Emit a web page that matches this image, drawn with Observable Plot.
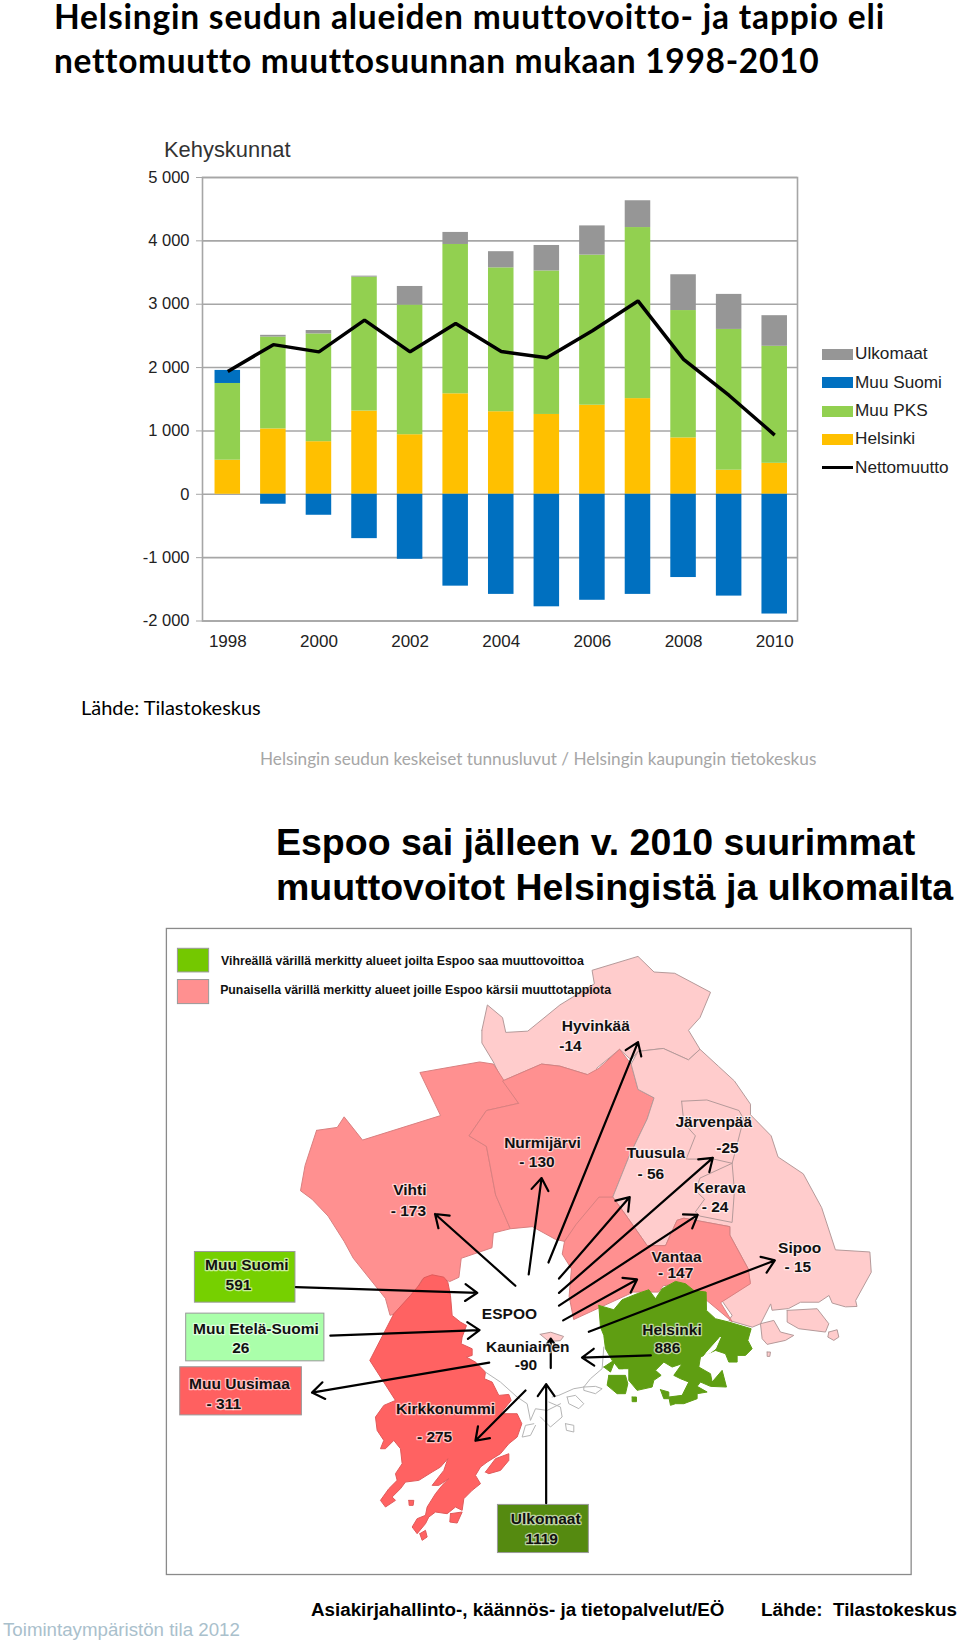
<!DOCTYPE html>
<html lang="fi">
<head>
<meta charset="utf-8">
<script src="https://cdn.jsdelivr.net/npm/d3@7"></script>
<script src="https://cdn.jsdelivr.net/npm/@observablehq/plot@0.6"></script>
<style>
html,body{margin:0;padding:0;background:#fff;}
#page{position:relative;width:960px;height:1644px;overflow:hidden;font-family:"Liberation Sans",Arial,sans-serif;}
#page>div{position:absolute;white-space:pre;line-height:1;}
#chart,#map{left:0;}
#chart{top:0;}#map{top:920px;}
.sw{width:31px;height:11px;}
</style>
</head>
<body>
<div id="page"></div>
<script>
const years = [1998,1999,2000,2001,2002,2003,2004,2005,2006,2007,2008,2009,2010];
const helsinki = [538,1032,830,1314,940,1586,1303,1260,1406,1510,890,380,489];
const muuPks = [1211,1450,1701,2113,2047,2357,2271,2265,2369,2700,2010,2222,1847];
const muuSuomi = [206,-157,-331,-700,-1026,-1450,-1580,-1776,-1673,-1580,-1314,-1607,-1890];
const ulkomaat = [0,27,54,16,293,190,255,402,461,423,565,553,483];
const nettomuutto = [1939,2362,2248,2748,2248,2694,2254,2156,2580,3052,2129,1560,934];
const yTicks = [5000,4000,3000,2000,1000,0,-1000,-2000];
const yTickLabels = ["5 000","4 000","3 000","2 000","1 000","0","-1 000","-2 000"];
const xTicks = [1998,2000,2002,2004,2006,2008,2010];
const seriesNames = ["Helsinki","Muu PKS","Muu Suomi","Ulkomaat"];
const seriesColors = ["#FFC000","#92D050","#0070C0","#969696"];
const legendNames = ["Ulkomaat","Muu Suomi","Muu PKS","Helsinki","Nettomuutto"];
const legendColors = ["#969696","#0070C0","#92D050","#FFC000","#000"];

// Map geometry (map units)
const regionHyvinkaa = [[700,260],[712,200],[745,230],[752,265],[800,262],[870,200],[945,150],[940,118],[1040,85],[1075,122],[1120,125],[1198,170],[1175,230],[1150,260],[1175,305],[1150,330],[1095,303],[1040,310],[1025,330],[1000,305],[950,350],[945,405],[920,410],[930,365],[870,345],[830,340],[745,380],[725,335],[700,290]];
const regionVihti = [[340,497],[385,490],[400,465],[440,520],[610,462],[565,360],[695,335],[725,340],[780,433],[710,450],[672,510],[710,535],[730,650],[762,730],[725,740],[722,775],[655,800],[650,845],[630,855],[600,842],[570,850],[530,925],[500,935],[490,895],[420,800],[400,760],[365,700],[330,660],[305,640],[315,580]];
const regionNurmijarvi = [[780,433],[745,380],[830,340],[870,345],[930,365],[955,350],[1000,305],[1025,340],[1040,400],[1075,420],[1060,470],[1020,560],[985,655],[955,660],[910,720],[880,760],[860,755],[810,725],[762,730],[730,650],[710,535],[672,510],[710,450]];
const regionVantaa = [[880,760],[905,720],[955,655],[985,655],[1015,700],[1060,770],[1100,770],[1125,710],[1140,705],[1240,725],[1240,745],[1280,825],[1285,860],[1220,905],[1245,950],[1190,900],[1130,860],[1095,865],[1085,880],[1030,880],[960,915],[900,945],[890,890],[895,825],[875,790]];
const regionTuusulaSipoo = [[1025,340],[1040,310],[1095,303],[1150,330],[1175,305],[1215,345],[1250,380],[1285,435],[1285,460],[1330,510],[1345,560],[1400,600],[1440,680],[1470,780],[1545,785],[1548,833],[1514,900],[1517,914],[1492,915],[1463,906],[1456,888],[1434,904],[1394,904],[1368,919],[1332,923],[1329,908],[1307,955],[1289,963],[1238,947],[1245,935],[1220,896],[1284,856],[1280,825],[1240,745],[1240,725],[1140,705],[1125,710],[1100,770],[1060,770],[1015,700],[985,655],[1020,560],[1060,470],[1075,420],[1040,400]];
const regionJarvenpaa = [[1135,428],[1190,425],[1260,450],[1270,470],[1250,555],[1245,575],[1205,565],[1145,565],[1165,510],[1140,480]];
const regionKerava = [[1245,575],[1250,640],[1245,715],[1175,700],[1165,690],[1185,660],[1165,640],[1175,610]];
const regionKauniainen = [[827,980],[850,975],[878,985],[871,995],[846,997]];

// South-west part, in detail units a
const detailKirkkonummi = [[175,135],[190,112],[215,103],[250,110],[262,125],[270,165],[275,225],[300,245],[318,255],[305,290],[302,310],[335,325],[335,345],[318,350],[345,365],[375,395],[372,415],[395,425],[415,465],[445,462],[452,480],[420,520],[470,520],[484,550],[470,590],[445,610],[420,640],[380,665],[360,680],[345,705],[360,730],[335,750],[310,775],[305,810],[285,800],[260,820],[225,815],[205,830],[195,850],[170,880],[155,860],[170,835],[195,825],[200,800],[225,760],[245,735],[265,715],[235,735],[215,735],[250,690],[262,655],[240,680],[215,695],[175,720],[135,725],[120,745],[95,770],[105,780],[75,800],[60,780],[85,745],[110,720],[105,700],[125,670],[120,625],[100,600],[75,625],[60,625],[70,600],[50,570],[45,530],[70,495],[105,480],[28,360],[100,220],[150,165]];
const detailKirkIsle1 = [[375,695],[405,655],[445,640],[445,660],[420,690],[385,700]];
const detailKirkIsle2 = [[270,820],[305,815],[290,848],[268,845]];
const detailKirkIsle3 = [[178,880],[195,870],[200,890],[185,900]];
const detailKirkIsle4 = [[145,780],[160,780],[158,795],[146,795]];
const detailCoastA = [[375,395],[420,425],[470,470],[500,490],[510,540],[525,505],[560,510],[600,490]];
const detailCoastB = [[520,550],[495,555],[485,590],[510,585],[525,555]];

// South-east part, in detail units b
const detailHelsinki = [[175,135],[220,148],[245,118],[290,100],[325,88],[345,115],[365,85],[405,63],[435,70],[460,90],[497,95],[498,150],[525,175],[565,185],[632,205],[622,240],[635,265],[615,285],[590,285],[590,305],[565,305],[555,280],[525,270],[480,290],[475,320],[510,340],[515,365],[545,330],[558,380],[510,378],[480,365],[470,378],[500,395],[470,400],[470,415],[430,430],[405,430],[390,435],[385,410],[425,405],[445,365],[420,355],[400,345],[425,310],[395,320],[370,305],[345,330],[362,345],[340,360],[335,380],[290,390],[265,360],[265,325],[235,325],[215,300],[195,265],[190,225],[180,200]];
const detailHelInlet = [[500,275],[540,230],[525,265],[485,295]];
const detailHelIsle1 = [[190,320],[225,297],[210,335]];
const detailHelIsle2 = [[235,305],[250,305],[248,325],[235,325]];
const detailHelIsle3 = [[205,345],[255,345],[262,370],[255,400],[230,400],[200,375]];
const detailHelIsle4 = [[275,410],[288,410],[288,424],[275,424]];
const detailHelIsle5 = [[360,388],[385,395],[385,415],[370,415]];
const detailSipooIsle1 = [[660,190],[700,180],[720,215],[760,225],[735,240],[680,252],[665,235]];
const detailSipooIsle2 = [[740,150],[830,145],[865,190],[855,215],[775,205],[740,185]];
const detailSipooIsle3 = [[865,215],[890,208],[895,230],[880,240],[862,230]];
const detailSipooIsle4 = [[680,275],[690,275],[688,288],[680,288]];
const detailCoastC = [[80,410],[105,405],[130,430],[115,445],[85,430],[80,410]];
const detailCoastD = [[130,380],[165,378],[185,385],[165,400],[130,390],[130,380]];
const detailCoastE = [[25,425],[60,440],[65,470],[30,500],[0,470]];
const detailCoastF = [[75,490],[100,495],[100,515],[78,510],[75,490]];
const detailCoastG = [[35,410],[55,405],[100,385],[130,380],[150,355],[185,325],[190,260]];

const fromA = ([p,q])=>[435.6+0.726*p,757.8+0.789*q];
const fromB = ([p,q])=>[827.6+0.726*p,805+0.789*q];

const rPale = "#FFCCCC", rMid = "#FF9090", rStrong = "#FF6262", gHel = "#5F9E12";
const paleEdge = "#b59a9a", midEdge = "#d98080", strongEdge = "#e05a5a";
const regions = [
  [regionHyvinkaa,rPale,paleEdge],[regionVihti,rMid,midEdge],[regionNurmijarvi,rMid,midEdge],
  [regionTuusulaSipoo,rPale,paleEdge],[regionJarvenpaa,rPale,paleEdge],[regionKerava,rPale,paleEdge],
  [regionVantaa,rMid,midEdge],
  [detailKirkkonummi.map(fromA),rStrong,strongEdge],[detailKirkIsle1.map(fromA),rStrong,strongEdge],
  [detailKirkIsle2.map(fromA),rStrong,strongEdge],[detailKirkIsle3.map(fromA),rStrong,strongEdge],[detailKirkIsle4.map(fromA),rStrong,strongEdge],
  [detailHelsinki.map(fromB),gHel,gHel],[detailHelInlet.map(fromB),"#fff","#fff"],
  [detailHelIsle1.map(fromB),gHel,gHel],[detailHelIsle2.map(fromB),gHel,gHel],[detailHelIsle3.map(fromB),gHel,gHel],
  [detailHelIsle4.map(fromB),gHel,gHel],[detailHelIsle5.map(fromB),gHel,gHel],
  [regionKauniainen,rPale,paleEdge],
  [detailSipooIsle1.map(fromB),rPale,paleEdge],[detailSipooIsle2.map(fromB),rPale,paleEdge],
  [detailSipooIsle3.map(fromB),rPale,paleEdge],[detailSipooIsle4.map(fromB),rPale,paleEdge]
];
const coasts = [detailCoastA.map(fromA),detailCoastB.map(fromA),detailCoastC.map(fromB),detailCoastD.map(fromB),detailCoastE.map(fromB),detailCoastF.map(fromB),detailCoastG.map(fromB)];

const arrowFrom = [[773,865],[802,838],[845,810],[868,848],[868,882],[868,912],[877,947],[933,974],[295,868],[370,983],[716,1047],[795,1113],[840,1380],[1068,1030],[850,1060]];
const arrowTo = [[598,695],[830,610],[1040,288],[1022,655],[1203,562],[1170,697],[1038,850],[1338,805],[690,882],[695,970],[330,1118],[686,1232],[840,1098],[918,1035],[850,990]];

const boxes = [[75,785,294,905,"#76D000"],[56,931,357,1044,"#AAFFAA"],[43,1058,308,1172,"#FF6060"],[735,1384,933,1498,"#558A10"],[38,67,106,123,"#74C800"],[38,141,106,198,"#FF9090"]];
const labelNames = ["Hyvinkää","-14","Nurmijärvi","- 130","Vihti","- 173","Tuusula","- 56","Järvenpää","-25","Kerava","- 24","Sipoo","- 15","Vantaa","- 147","Helsinki","886","ESPOO","Kauniainen","-90","Kirkkonummi","- 275","Muu Suomi","591","Muu Etelä-Suomi","26","Muu Uusimaa","- 311","Ulkomaat","1119"];
const labelX = [948,893,832,820,543,540,1079,1068,1205,1235,1218,1208,1392,1388,1124,1122,1114,1104,760,800,796,621,597,188,170,208,175,172,138,839,830];
const labelY = [250,298,526,571,638,689,550,601,477,540,634,678,776,821,798,834,969,1012,933,1010,1053,1156,1223,817,863,967,1013,1098,1144,1418,1465];
const mapLegendText = ["Vihreällä värillä merkitty alueet joilta Espoo saa muuttovoittoa","Punaisella värillä merkitty alueet joille Espoo kärsii muuttotappiota"];

const page = document.getElementById("page");
function addText(text,x,baseline,size,opts={}){
  const d=document.createElement("div");
  d.textContent=text;
  d.style.left=x+"px";
  d.style.top=(baseline-size*0.86)+"px";
  d.style.fontSize=size+"px";
  d.style.fontFamily=opts.family||'"Liberation Sans"';
  d.style.fontWeight=opts.weight||400;
  d.style.color=opts.color||"#000";
  if(opts.spacing) d.style.letterSpacing=opts.spacing+"px";
  page.appendChild(d);
}

// ---- chart ----
const long = [];
years.forEach((year,i)=>{
  [helsinki,muuPks,muuSuomi,ulkomaat].forEach((s,k)=>long.push({year,series:seriesNames[k],value:s[i]}));
});
const netRows = years.map((year,i)=>({year,value:nettomuutto[i]}));
const tickLabel = new Map(yTicks.map((t,i)=>[t,yTickLabels[i]]));
const chart = Plot.plot({
  width:960,height:660,
  marginLeft:202,marginRight:163,marginTop:177,marginBottom:39.5,
  style:{fontFamily:"Liberation Sans",fontSize:"17px",background:"transparent",overflow:"visible"},
  x:{type:"band",domain:years,paddingInner:0.44,paddingOuter:0.22,align:0.5,round:false,range:[204.5,797],label:null},
  y:{domain:[-2000,5000],label:null},
  color:{domain:seriesNames,range:seriesColors},
  marks:[
    Plot.frame({stroke:"#a6a6a6",strokeWidth:1.6}),
    Plot.ruleY(yTicks,{stroke:"#a6a6a6",strokeWidth:1.6}),
    Plot.axisY({ticks:yTicks,tickFormat:d=>tickLabel.get(d),tickSize:6,tickPadding:7,stroke:"#a6a6a6",color:"#222",label:null,fontSize:16.5}),
    Plot.axisX({ticks:xTicks,tickFormat:d=>String(d),tickSize:0,tickPadding:14,color:"#222",label:null,fontSize:17}),
    Plot.barY(long,Plot.stackY({x:"year",y:"value",fill:"series",order:seriesNames})),
    Plot.line(netRows,{x:"year",y:"value",stroke:"#000",strokeWidth:3.5,strokeLinejoin:"miter",strokeLinecap:"butt"})
  ]
});
const cDiv=document.createElement("div");cDiv.id="chart";cDiv.appendChild(chart);page.appendChild(cDiv);

// ---- chart legend ----
const lgY=[354,382.5,411,439,467.5];
legendNames.forEach((name,i)=>{
  const s=document.createElement("div");
  s.className="sw";
  s.style.left="822px";
  s.style.background=legendColors[i];
  if(name==="Nettomuutto"){s.style.height="3px";s.style.top=(lgY[i]-1.5)+"px";}
  else s.style.top=(lgY[i]-5.5)+"px";
  page.appendChild(s);
  addText(name,855,lgY[i]+6,17.2,{color:"#222"});
});

// ---- map ----
const closed=(pts)=>[...pts,pts[0]];
const map = Plot.plot({
  width:960,height:660,margin:0,axis:null,
  style:{background:"transparent",fontFamily:"Liberation Sans"},
  x:{type:"linear",domain:[-348.4,1742.4],range:[0,960]},
  y:{type:"linear",domain:[0,1563],range:[0,660]},
  marks:[
    Plot.rect([[14,20,1636,1550]],{x1:d=>d[0],y1:d=>d[1],x2:d=>d[2],y2:d=>d[3],fill:"#fff",stroke:"#8a8a8a",strokeWidth:1.3}),
    ...regions.map(([pts,fill,stroke])=>Plot.line(closed(pts),{x:d=>d[0],y:d=>d[1],fill,stroke,strokeWidth:1,strokeLinejoin:"round"})),
    ...coasts.map(pts=>Plot.line(pts,{x:d=>d[0],y:d=>d[1],stroke:"#b5b5b5",strokeWidth:1})),
    Plot.rect(boxes,{x1:d=>d[0],y1:d=>d[1],x2:d=>d[2],y2:d=>d[3],fill:d=>d[4],stroke:"#999",strokeWidth:1}),
    Plot.arrow(arrowFrom.map((a,i)=>[a,arrowTo[i]]),{x1:d=>d[0][0],y1:d=>d[0][1],x2:d=>d[1][0],y2:d=>d[1][1],stroke:"#000",strokeWidth:2.2,headLength:10,headAngle:70,inset:0}),
    Plot.text(labelNames,{x:(d,i)=>labelX[i],y:(d,i)=>labelY[i],text:d=>d,fontSize:15.5,fontWeight:"bold",fill:"#111",stroke:"#fff",strokeOpacity:0.6,strokeWidth:2.5,textAnchor:"middle",lineAnchor:"middle"}),
    Plot.text(mapLegendText,{x:(d,i)=>[132,130][i],y:(d,i)=>[95,165][i],text:d=>d,fontSize:12.3,fontWeight:"bold",fill:"#111",textAnchor:"start",lineAnchor:"middle"})
  ]
});
const mDiv=document.createElement("div");mDiv.id="map";mDiv.appendChild(map);page.appendChild(mDiv);

// ---- page text ----
addText("Helsingin seudun alueiden muuttovoitto- ja tappio eli",54,29,33.5,{family:"Lato",weight:700,spacing:0.8});
addText("nettomuutto muuttosuunnan mukaan 1998-2010",54,73,33.5,{family:"Lato",weight:700,spacing:0.68});
addText("Kehyskunnat",164,158,21.9,{color:"#333"});
addText("Lähde: Tilastokeskus",81,714,20,{family:"Lato"});
addText("Helsingin seudun keskeiset tunnusluvut / Helsingin kaupungin tietokeskus",260,765,17.2,{family:"Lato",color:"#a6a6a6"});
addText("Espoo sai jälleen v. 2010 suurimmat",276,856,37.5,{weight:700});
addText("muuttovoitot Helsingistä ja ulkomailta",276,901,37.5,{weight:700});
addText("Asiakirjahallinto-, käännös- ja tietopalvelut/EÖ",311,1617,18.8,{weight:700});
addText("Lähde:  Tilastokeskus",761,1617,18.8,{weight:700});
addText("Toimintaympäristön tila 2012",3,1637,18.7,{color:"#a9c0cc"});
</script>
</body>
</html>
